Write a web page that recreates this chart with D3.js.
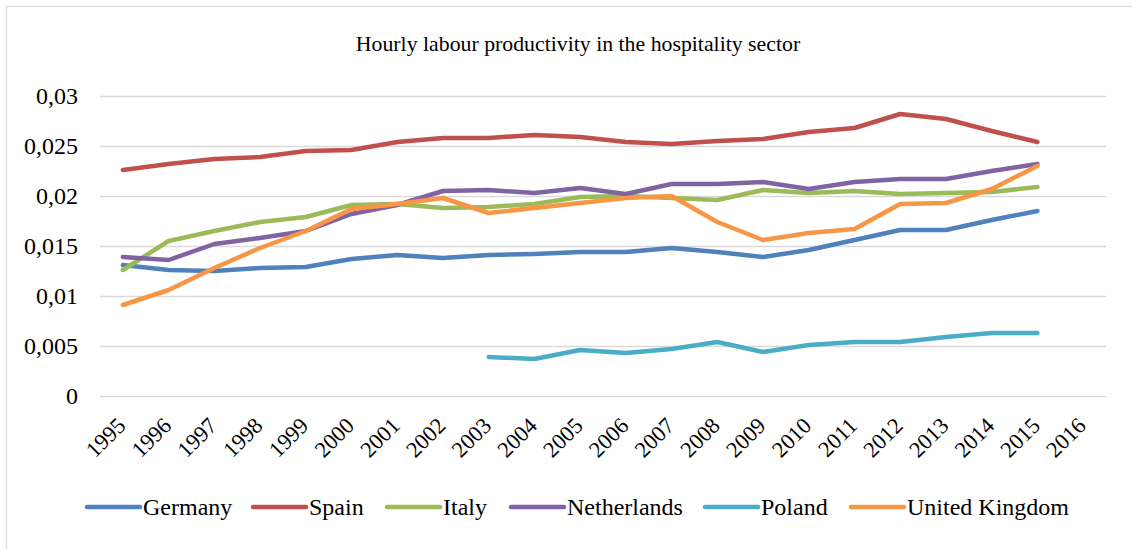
<!DOCTYPE html>
<html>
<head>
<meta charset="utf-8">
<script src="https://cdn.jsdelivr.net/npm/d3@7"></script>
<style>
  html, body { margin: 0; padding: 0; background: #fff; }
  svg { display: block; }
  svg text { font-family: 'Liberation Serif', 'Times New Roman', serif !important; fill: #000; }
</style>
</head>
<body>
<svg id="chart" width="1132" height="549"></svg>
<script>
const years = ["1995","1996","1997","1998","1999","2000","2001","2002","2003","2004","2005","2006","2007","2008","2009","2010","2011","2012","2013","2014","2015","2016"];
const yTicks = [0, 0.005, 0.01, 0.015, 0.02, 0.025, 0.03];
const yTickLabels = ["0", "0,005", "0,01", "0,015", "0,02", "0,025", "0,03"];
const title = "Hourly labour productivity in the hospitality sector";

const germany     = [0.0131,0.0126,0.0125,0.0128,0.0129,0.0137,0.0141,0.0138,0.0141,0.0142,0.0144,0.0144,0.0148,0.0144,0.0139,0.0146,0.0156,0.0166,0.0166,0.0176,0.0185,null];
const spain       = [0.0226,0.0232,0.0237,0.0239,0.0245,0.0246,0.0254,0.0258,0.0258,0.0261,0.0259,0.0254,0.0252,0.0255,0.0257,0.0264,0.0268,0.0282,0.0277,0.0265,0.0254,null];
const italy       = [0.0126,0.0155,0.0165,0.0174,0.0179,0.0191,0.0192,0.0188,0.0189,0.0192,0.0199,0.0200,0.0198,0.0196,0.0206,0.0203,0.0205,0.0202,0.0203,0.0204,0.0209,null];
const netherlands = [0.0139,0.0136,0.0152,0.0158,0.0165,0.0182,0.0191,0.0205,0.0206,0.0203,0.0208,0.0202,0.0212,0.0212,0.0214,0.0207,0.0214,0.0217,0.0217,0.0225,0.0232,null];
const poland      = [null,null,null,null,null,null,null,null,0.0039,0.0037,0.0046,0.0043,0.0047,0.0054,0.0044,0.0051,0.0054,0.0054,0.0059,0.0063,0.0063,null];
const uk          = [0.0091,0.0106,0.0128,0.0148,0.0165,0.0187,0.0192,0.0198,0.0183,0.0188,0.0193,0.0198,0.0200,0.0174,0.0156,0.0163,0.0167,0.0192,0.0193,0.0207,0.0230,null];

const seriesNames = ["Germany","Spain","Italy","Netherlands","Poland","United Kingdom"];
const seriesValues = [germany, spain, italy, netherlands, poland, uk];
const seriesColors = ["#4F81BD","#C0504D","#9BBB59","#8064A2","#4BACC6","#F79646"];

const svg = d3.select("#chart");
const margin = {left: 100, right: 26, top: 96, bottom: 153};
const W = 1132, H = 549;

// chart border (top/left visible)
svg.append("rect").attr("x", 6.5).attr("y", 6.5).attr("width", 1140).attr("height", 560)
  .attr("fill", "none").attr("stroke", "#d9d9d9").attr("stroke-width", 1.3);

const x = d3.scaleBand().domain(years).range([margin.left, W - margin.right]);
const y = d3.scaleLinear().domain([0, 0.03]).range([H - margin.bottom, margin.top]);

// title
svg.append("text").attr("x", 578).attr("y", 51).attr("text-anchor", "middle")
  .attr("font-size", 21.8).text(title);

// gridlines + y axis
const yAxis = d3.axisLeft(y).tickValues(yTicks).tickFormat((d, i) => yTickLabels[i])
  .tickSize(-(W - margin.left - margin.right)).tickPadding(22);
const gy = svg.append("g").attr("transform", `translate(${margin.left},0)`).call(yAxis);
gy.select(".domain").remove();
gy.selectAll(".tick line").attr("stroke", "#d9d9d9").attr("stroke-width", 1.5);
gy.selectAll(".tick text").attr("font-size", 24).attr("dy", "0.3em");

// x axis labels
const xAxis = d3.axisBottom(x).tickSize(0).tickPadding(0);
const gx = svg.append("g").attr("transform", `translate(0,${H - margin.bottom})`).call(xAxis);
gx.select(".domain").remove();
gx.selectAll(".tick text").attr("font-size", 22.5)
  .attr("text-anchor", "end").attr("dy", 0)
  .attr("transform", "translate(4,31) rotate(-45)");

// lines
const line = d3.line()
  .defined(d => d.v !== null)
  .x(d => x(d.year) + x.bandwidth() / 2)
  .y(d => y(d.v));

seriesValues.forEach((vals, i) => {
  const data = years.map((yr, j) => ({year: yr, v: vals[j]}));
  svg.append("path").datum(data)
    .attr("fill", "none").attr("stroke", seriesColors[i]).attr("stroke-width", 4.5)
    .attr("stroke-linecap", "round").attr("stroke-linejoin", "round")
    .attr("d", line);
});

// legend
const legendX = [87, 253, 387, 511, 705, 851];
const leg = svg.append("g");
seriesNames.forEach((name, i) => {
  const g = leg.append("g").attr("transform", `translate(${legendX[i]},507)`);
  g.append("line").attr("x1", 0).attr("x2", 53).attr("y1", 0).attr("y2", 0)
    .attr("stroke", seriesColors[i]).attr("stroke-width", 4.5).attr("stroke-linecap", "round");
  g.append("text").attr("x", 56).attr("y", 8).attr("font-size", 24).text(name);
});
</script>
</body>
</html>
